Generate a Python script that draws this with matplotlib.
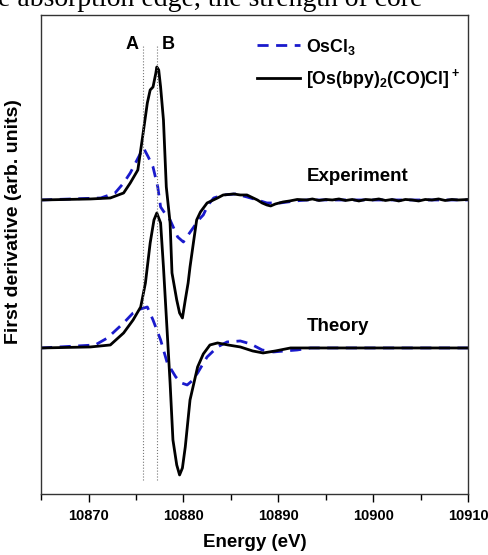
import numpy as np
import matplotlib
matplotlib.use("Agg")
import matplotlib.pyplot as plt

plt.rcParams['font.family'] = 'Liberation Sans'
plt.rcParams['font.weight'] = 'bold'
plt.rcParams['mathtext.fontset'] = 'custom'
plt.rcParams['mathtext.rm'] = 'Liberation Sans:bold'
plt.rcParams['mathtext.it'] = 'Liberation Sans:bold'
plt.rcParams['mathtext.bf'] = 'Liberation Sans:bold'

# experiment, [Os(bpy)2(CO)Cl]+
exp_os_e = [10865.0, 10870.2, 10872.3, 10873.7, 10874.4, 10875.2, 10875.7, 10876.2, 10876.5,
            10876.8, 10877.1, 10877.2, 10877.4, 10877.6, 10877.9, 10878.2, 10878.6, 10878.8,
            10879.3, 10879.6, 10879.9, 10880.2, 10880.5, 10880.7, 10881.1, 10881.4, 10881.8,
            10882.5, 10883.6, 10884.2, 10885.3, 10886.0, 10886.7, 10887.8, 10888.3, 10888.8,
            10889.2, 10889.7, 10890.5, 10891.2, 10892.0, 10893.0, 10893.6, 10894.3, 10895.0,
            10895.7, 10896.4, 10897.1, 10897.8, 10898.5, 10899.2, 10899.9, 10900.6, 10901.3,
            10902.0, 10902.7, 10903.4, 10904.1, 10904.8, 10905.5, 10906.2, 10906.9, 10907.6,
            10908.3, 10909.0, 10910.0]
exp_os_v = [0.0, 0.01, 0.02, 0.07, 0.17, 0.30, 0.63, 0.97, 1.10,
            1.13, 1.27, 1.33, 1.30, 1.13, 0.80, 0.13, -0.23, -0.73,
            -1.00, -1.13, -1.18, -1.00, -0.83, -0.67, -0.40, -0.20, -0.12,
            -0.03, 0.02, 0.05, 0.06, 0.05, 0.05, 0.00, -0.03, -0.05,
            -0.06, -0.04, -0.02, -0.01, 0.005, 0.00, 0.01, -0.005, 0.005,
            0.00, 0.01, -0.005, 0.005, -0.01, 0.005, 0.00, 0.01, -0.005,
            0.005, -0.01, 0.005, 0.00, -0.01, 0.005, 0.00, 0.01, -0.005,
            0.005, 0.00, 0.005]

# experiment, OsCl3
exp_cl_e = [10865.0, 10871.3, 10872.8, 10873.7, 10874.4, 10875.5, 10875.8, 10876.3, 10876.8,
            10877.3, 10877.6, 10878.1, 10878.6, 10879.4, 10880.0, 10880.5, 10881.1, 10881.6,
            10882.1, 10882.6, 10883.2, 10884.2, 10885.5, 10886.7, 10887.8, 10888.8, 10890.2,
            10891.8, 10893.0, 10910.0]
exp_cl_v = [0.0, 0.02, 0.07, 0.17, 0.27, 0.47, 0.52, 0.43, 0.33,
            0.13, -0.07, -0.14, -0.20, -0.37, -0.42, -0.35, -0.27, -0.20,
            -0.15, -0.05, 0.02, 0.05, 0.06, 0.03, 0.00, -0.03, -0.03,
            -0.01, 0.0, 0.0]

# theory, [Os(bpy)2(CO)Cl]+
th_os_e = [10865.0, 10870.2, 10872.3, 10873.7, 10874.7, 10875.5, 10876.0, 10876.5, 10876.9,
           10877.2, 10877.6, 10877.9, 10878.3, 10878.6, 10878.9, 10879.3, 10879.6, 10879.9,
           10880.2, 10880.7, 10881.5, 10882.1, 10882.8, 10883.6, 10884.7, 10886.0, 10887.3,
           10888.4, 10889.7, 10891.3, 10910.0]
th_os_v = [0.0, 0.01, 0.03, 0.15, 0.28, 0.41, 0.65, 1.05, 1.28,
           1.35, 1.25, 0.81, 0.15, -0.35, -0.92, -1.17, -1.27, -1.20,
           -0.99, -0.52, -0.19, -0.06, 0.03, 0.05, 0.03, 0.01, -0.03,
           -0.05, -0.03, 0.0, 0.0]

# theory, OsCl3
th_cl_e = [10865.0, 10870.7, 10872.0, 10873.7, 10874.7, 10875.5, 10876.2, 10876.8, 10877.6,
           10878.3, 10879.2, 10879.8, 10880.4, 10880.9, 10881.5, 10882.5, 10883.6, 10884.6,
           10886.0, 10887.1, 10888.3, 10889.5, 10890.7, 10892.0, 10893.4, 10910.0]
th_cl_v = [0.0, 0.03, 0.10, 0.25, 0.35, 0.39, 0.41, 0.28, 0.08,
           -0.15, -0.29, -0.35, -0.37, -0.33, -0.25, -0.09, 0.01, 0.06,
           0.07, 0.04, -0.02, -0.04, -0.03, -0.02, 0.0, 0.0]

exp_offset = 1.48
peak_a = 10875.7
peak_b = 10877.2

fig = plt.figure(figsize=(4.89, 5.55), dpi=100)
ax = fig.add_axes([0.084, 0.110, 0.873, 0.863])

blue = '#1a1acc'
dash = (0, (4, 2.7))
ax.plot(exp_cl_e, np.array(exp_cl_v) + exp_offset, color=blue, lw=2, ls=dash, label=r'OsCl$_3$')
ax.plot(exp_os_e, np.array(exp_os_v) + exp_offset, color='k', lw=2, label=r'[Os(bpy)$_2$(CO)Cl]$^+$')
ax.plot(th_cl_e, th_cl_v, color=blue, lw=2, ls=dash)
ax.plot(th_os_e, th_os_v, color='k', lw=2)

ax.vlines([peak_a, peak_b], -1.32, 3.03, colors='#777777', lw=0.8, linestyles=':')
ax.text(peak_a - 0.4, 3.03, 'A', ha='right', va='center', fontsize=13, fontweight='bold')
ax.text(peak_b + 0.5, 3.03, 'B', ha='left', va='center', fontsize=13, fontweight='bold')

ax.text(10893.0, 1.71, 'Experiment', ha='left', va='center', fontsize=13.5, fontweight='bold')
ax.text(10893.0, 0.21, 'Theory', ha='left', va='center', fontsize=13.5, fontweight='bold')

ax.set_xlim(10865, 10910)
ax.set_ylim(-1.46, 3.33)
ax.set_xticks([10870, 10880, 10890, 10900, 10910])
ax.set_xticks([10865, 10875, 10885, 10895, 10905], minor=True)
ax.set_yticks([])
ax.tick_params(axis='x', which='major', direction='out', length=6, width=1, labelsize=10.5, pad=5)
ax.tick_params(axis='x', which='minor', direction='out', length=4, width=1)
for s in ax.spines.values():
    s.set_linewidth(1.0)
    s.set_color('#333333')

ax.set_xlabel('Energy (eV)', fontsize=13.5, fontweight='bold', labelpad=8)
ax.set_ylabel('First derivative (arb. units)', fontsize=14, fontweight='bold')
ax.yaxis.set_label_coords(-0.044, 0.568)

ax.legend(loc='upper left', bbox_to_anchor=(0.506, 0.955), frameon=False, fontsize=12.8,
          handlelength=2.4, handletextpad=0.35, borderpad=0, borderaxespad=0, labelspacing=0.6)

fig.text(-0.005, 1 - 6 / 555, 'e absorption edge, the strength of core', ha='left', va='baseline',
         fontsize=20, family='Liberation Serif', fontweight='normal')

fig.savefig('out.png', dpi=100)
